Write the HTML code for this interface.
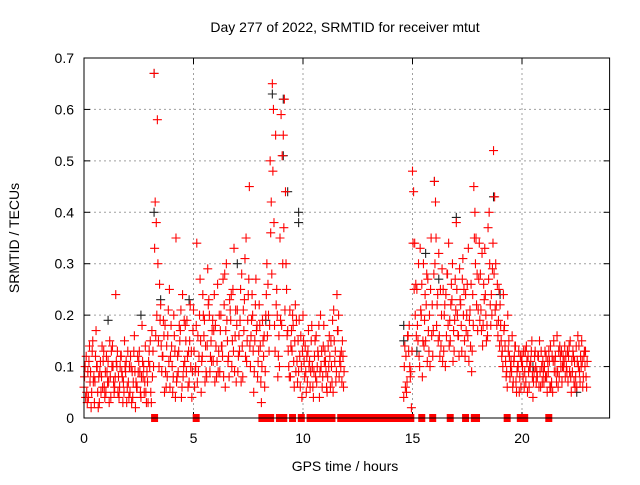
<!DOCTYPE html>
<html><head><meta charset="utf-8"><style>
body{margin:0;background:#fff;}
svg text{font-family:"Liberation Sans",sans-serif;font-size:14px;fill:#000;}
</style></head><body>
<svg id="chart" width="640" height="480" viewBox="0 0 640 480" xmlns="http://www.w3.org/2000/svg">
<rect width="640" height="480" fill="#fff"/>
<g id="grid"></g>
<g id="ticks"></g>
<g id="black"></g>
<g id="red"></g>
<rect x="84" y="58" width="525.6" height="360" fill="none" stroke="#000" stroke-width="1"/>
<text x="345" y="32" text-anchor="middle">Day 277 of 2022, SRMTID for receiver mtut</text>
<text x="345" y="471" text-anchor="middle">GPS time / hours</text>
<text x="0" y="0" text-anchor="middle" transform="translate(19,238) rotate(-90)">SRMTID / TECUs</text>
</svg>
<script>
const xTicks=[0,5,10,15,20];
const yTicks=[0,0.1,0.2,0.3,0.4,0.5,0.6,0.7];
const yTickLabels=["0","0.1","0.2","0.3","0.4","0.5","0.6","0.7"];
const hoursA=[0.0,0.1,0.2,0.3,0.4,0.5,0.6,0.7,0.8,0.9,1.0,1.1,1.2,1.3,1.4,1.5,1.6,1.7,1.8,1.9,2.0,2.1,2.2,2.3,2.4,2.5,2.6,2.7,2.8,2.9,3.0,3.1,3.2,3.3,3.4,3.5,3.6,3.7,3.8,3.9,4.0,4.1,4.2,4.3,4.4,4.5,4.6,4.7,4.8,4.9,5.0,5.1,5.2,5.3,5.4,5.5,5.6,5.7,5.8,5.9,6.0,6.1,6.2,6.3,6.4,6.5,6.6,6.7,6.8,6.9,7.0,7.1,7.2,7.3,7.4,7.5,7.6,7.7,7.8,7.9,8.0,8.1,8.2,8.3,8.4,8.5,8.6,8.7,8.8,8.9,9.0,9.1,9.2,9.3,9.4,9.5,9.6,9.7,9.8,9.9,10.0,10.1,10.2,10.3,10.4,10.5,10.6,10.7,10.8,10.9,11.0,11.1,11.2,11.3,11.4,11.5,11.6,11.7,11.8];
const redA1=[.06,.12,.04,.09,.15,.07,.10,.03,.08,.13,.05,.11,.08,.14,.06,.10,.04,.12,.07,.09,.13,.05,.09,.16,.06,.11,.04,.08,.14,.07,.10,.17,.67,.38,.15,.22,.12,.18,.08,.25,.14,.20,.35,.09,.17,.24,.11,.19,.07,.13,.21,.10,.16,.27,.12,.19,.08,.23,.15,.11,.18,.26,.09,.14,.22,.30,.12,.19,.25,.16,.21,.13,.28,.17,.35,.24,.10,.20,.15,.18,.22,.03,.12,.20,.26,.50,.65,.18,.25,.16,.59,.55,.44,.17,.21,.13,.06,.19,.09,.16,.20,.14,.07,.11,.18,.09,.16,.12,.20,.08,.13,.05,.16,.10,.21,.07,.17,.12,.15];
const redA2=[.10,.03,.14,.05,.08,.17,.02,.11,.06,.04,.09,.03,.13,.07,.24,.05,.10,.08,.15,.03,.04,.10,.07,.02,.12,.09,.18,.05,.03,.11,.05,.13,.42,.58,.26,.09,.16,.06,.21,.12,.05,.13,.08,.18,.04,.10,.15,.06,.22,.09,.06,.34,.12,.05,.20,.14,.29,.09,.17,.24,.08,.13,.20,.27,.06,.15,.23,.10,.33,.07,.12,.25,.08,.31,.15,.45,.19,.05,.27,.11,.14,.19,.06,.30,.13,.42,.60,.55,.08,.35,.51,.62,.25,.10,.14,.18,.22,.07,.12,.04,.11,.05,.17,.09,.06,.15,.10,.04,.13,.18,.09,.14,.06,.19,.11,.24,.08,.13,.06];
const redA3=[.08,.05,.11,.02,.07,.12,.05,.09,.14,.06,.12,.07,.04,.10,.08,.13,.06,.09,.05,.11,.07,.12,.04,.09,.06,.13,.08,.10,.05,.03,.15,.08,.33,.20,.10,.14,.19,.09,.16,.06,.10,.16,.07,.13,.21,.08,.18,.12,.15,.04,.13,.18,.09,.15,.24,.07,.14,.20,.11,.17,.14,.09,.17,.12,.28,.19,.08,.24,.13,.21,.09,.19,.14,.23,.11,.27,.16,.13,.22,.08,.18,.10,.16,.24,.20,.36,.48,.13,.20,.10,.18,.37,.30,.13,.08,.20,.15,.11,.19,.10,.15,.09,.13,.06,.10,.12,.07,.18,.10,.14,.11,.08,.12,.07,.15,.09,.20,.10,.12];
const redA4=[.04,.09,.07,.13,.03,.10,.08,.05,.11,.09,.07,.15,.10,.05,.11,.08,.12,.03,.10,.06,.10,.03,.13,.07,.09,.05,.11,.07,.09,.13,.03,.10,.16,.30,.19,.12,.05,.14,.11,.18,.08,.04,.12,.15,.06,.19,.09,.13,.10,.17,.09,.07,.20,.11,.16,.09,.22,.12,.19,.07,.11,.20,.14,.08,.17,.11,.21,.15,.09,.18,.16,.07,.21,.12,.19,.14,.24,.09,.17,.13,.07,.15,.09,.16,.18,.28,.38,.22,.12,.19,.30,.21,.16,.08,.17,.11,.09,.15,.06,.13,.08,.12,.10,.15,.04,.08,.13,.09,.06,.11,.06,.10,.15,.05,.13,.17,.11,.07,.09];
const hoursB=[14.6,14.7,14.8,14.9,15.0,15.1,15.2,15.3,15.4,15.5,15.6,15.7,15.8,15.9,16.0,16.1,16.2,16.3,16.4,16.5,16.6,16.7,16.8,16.9,17.0,17.1,17.2,17.3,17.4,17.5,17.6,17.7,17.8,17.9,18.0,18.1,18.2,18.3,18.4,18.5,18.6,18.7,18.8,18.9,19.0,19.1,19.2,19.3,19.4,19.5,19.6,19.7,19.8,19.9,20.0,20.1,20.2,20.3,20.4,20.5,20.6,20.7,20.8,20.9,21.0,21.1,21.2,21.3,21.4,21.5,21.6,21.7,21.8,21.9,22.0,22.1,22.2,22.3,22.4,22.5,22.6,22.7,22.8,22.9];
const redB1=[.04,.12,.16,.08,.48,.34,.25,.12,.20,.30,.15,.27,.10,.22,.46,.18,.32,.14,.25,.10,.28,.19,.23,.13,.38,.16,.22,.31,.12,.26,.19,.09,.45,.35,.21,.28,.14,.33,.18,.40,.24,.52,.30,.16,.22,.13,.18,.09,.15,.11,.07,.14,.10,.08,.12,.06,.14,.09,.11,.04,.13,.08,.15,.10,.07,.12,.09,.14,.05,.11,.16,.08,.13,.10,.12,.07,.15,.09,.11,.06,.14,.10,.08,.13];
const redB2=[.14,.07,.18,.02,.44,.26,.15,.33,.08,.19,.28,.13,.35,.17,.42,.24,.12,.29,.20,.16,.34,.22,.11,.27,.20,.29,.13,.25,.17,.33,.14,.24,.40,.28,.34,.17,.26,.20,.37,.22,.29,.43,.18,.25,.15,.24,.11,.20,.08,.16,.12,.05,.13,.06,.08,.13,.05,.10,.15,.09,.07,.12,.06,.11,.13,.05,.11,.07,.15,.09,.06,.12,.10,.14,.09,.14,.05,.12,.08,.16,.07,.11,.13,.06];
const redB3=[.10,.05,.13,.09,.34,.20,.18,.10,.26,.14,.22,.17,.25,.12,.30,.22,.16,.20,.13,.24,.18,.15,.30,.19,.25,.12,.18,.20,.24,.16,.21,.13,.35,.22,.27,.21,.18,.24,.16,.30,.20,.28,.22,.19,.18,.10,.14,.06,.12,.09,.11,.07,.10,.12,.10,.09,.11,.06,.13,.07,.10,.12,.09,.07,.10,.08,.13,.06,.11,.12,.09,.14,.07,.11,.10,.12,.08,.13,.06,.11,.09,.15,.12,.08];
const redB4=[.06,.16,.10,.13,.25,.16,.30,.21,.15,.24,.11,.20,.16,.28,.35,.15,.25,.11,.22,.28,.14,.26,.17,.21,.16,.23,.27,.15,.20,.11,.26,.18,.30,.17,.19,.32,.23,.15,.27,.18,.34,.21,.26,.14,.12,.17,.08,.13,.10,.06,.14,.09,.05,.11,.13,.07,.12,.10,.08,.12,.09,.06,.13,.09,.08,.11,.06,.12,.09,.07,.13,.10,.12,.08,.13,.09,.11,.07,.14,.10,.12,.06,.10,.11];
const zeroHours=[3.2,5.1,8.1,8.2,8.3,8.4,8.5,8.9,9.0,9.1,9.5,9.9,10.3,10.4,10.5,10.6,10.7,11.0,11.1,11.2,11.3,11.7,11.8,11.9,12.0,12.1,12.2,12.3,12.4,12.5,12.6,12.7,12.8,12.9,13.0,13.1,13.2,13.3,13.4,13.5,13.6,13.7,13.8,13.9,14.0,14.1,14.2,14.3,14.4,14.5,14.6,14.7,14.8,14.9,15.4,15.9,16.7,17.4,17.8,17.9,19.3,19.9,20.0,20.1,21.2];
const blackHours=[3.2,3.2,8.6,9.1,9.1,9.3,9.8,9.8,16.0,17.0,18.7,15.6,3.5,4.8,1.1,7.0,8.3,14.6,14.6,15.2,20.5,22.5,2.6,16.2,19.0];
const blackVals=[.67,.40,.63,.62,.51,.44,.38,.40,.46,.39,.43,.32,.23,.23,.19,.30,.19,.18,.15,.13,.10,.05,.20,.27,.24];

const NS="http://www.w3.org/2000/svg";
const X0=84,X1=609.6,Y0=418,Y1=58;
function xs(h){return X0+(h/24)*(X1-X0);}
function ys(v){return Y0-(v/0.7)*(Y0-Y1);}
function mk(tag,attrs,parent){const e=document.createElementNS(NS,tag);for(const k in attrs)e.setAttribute(k,attrs[k]);parent.appendChild(e);return e;}
const grid=document.getElementById('grid'),ticks=document.getElementById('ticks');
xTicks.forEach((t,i)=>{
  const x=xs(t);
  if(t>0){const g=mk('line',{x1:x,x2:x,y1:Y1,y2:Y0,stroke:'#a0a0a0','stroke-dasharray':'2,3'},grid);
  
  }
  mk('line',{x1:x,x2:x,y1:Y0,y2:Y0-6,stroke:'#000'},ticks);
  mk('line',{x1:x,x2:x,y1:Y1,y2:Y1+6,stroke:'#000'},ticks);
  const tx=mk('text',{x:x,y:443,'text-anchor':'middle'},ticks);tx.textContent=String(t);
  
  
});
yTicks.forEach((t,i)=>{
  const y=ys(t);
  if(t>0&&t<0.7){const g=mk('line',{x1:X0,x2:X1,y1:y,y2:y,stroke:'#a0a0a0','stroke-dasharray':'2,3'},grid);
  
  }
  mk('line',{x1:X0,x2:X0+6,y1:y,y2:y,stroke:'#000'},ticks);
  mk('line',{x1:X1,x2:X1-6,y1:y,y2:y,stroke:'#000'},ticks);
  const tx=mk('text',{x:74,y:y+5,'text-anchor':'end'},ticks);tx.textContent=yTickLabels[i];
  
  
});
function plus(parent,h,v,col,name){
  const x=xs(h),y=ys(v);
  const p=mk('path',{d:`M${x-4.5},${y}H${x+4.5}M${x},${y-4.5}V${y+4.5}`,stroke:col,'stroke-width':1.1,fill:'none'},parent);
  
  
}
const blk=document.getElementById('black'),red=document.getElementById('red');
blackHours.forEach((h,i)=>plus(blk,h,blackVals[i],'#222','black-point'));
hoursA.forEach((h,i)=>{
  plus(red,h,redA1[i],'#ff0000','red-point');
  plus(red,h+0.05,redA2[i],'#ff0000','red-point');
  plus(red,h+0.025,redA3[i],'#ff0000','red-point');
  plus(red,h+0.075,redA4[i],'#ff0000','red-point');
});
hoursB.forEach((h,i)=>{
  plus(red,h,redB1[i],'#ff0000','red-point');
  plus(red,h+0.05,redB2[i],'#ff0000','red-point');
  plus(red,h+0.025,redB3[i],'#ff0000','red-point');
  plus(red,h+0.075,redB4[i],'#ff0000','red-point');
});
zeroHours.forEach(h=>{
  const x=xs(h);
  const r=mk('rect',{x:x-3,y:ys(0)-4,width:7,height:8,fill:'#ff0000'},red);
  
  
});
</script>
</body></html>
